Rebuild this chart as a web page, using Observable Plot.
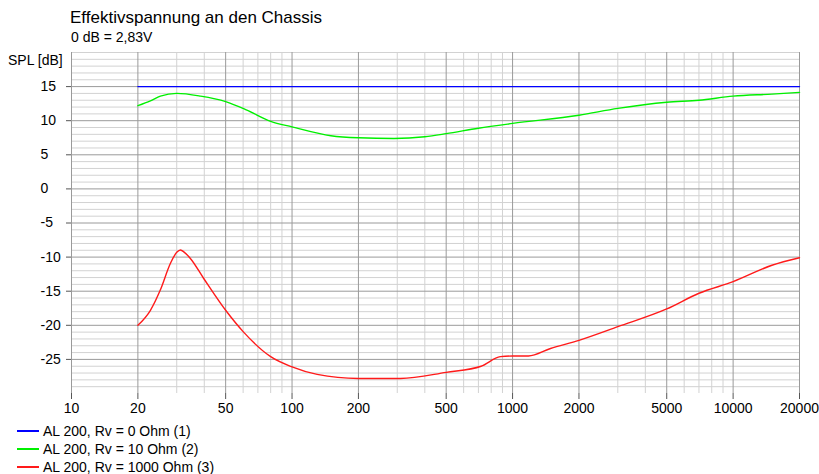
<!DOCTYPE html>
<html><head><meta charset="utf-8">
<script src="https://cdn.jsdelivr.net/npm/d3@7"></script>
<script src="https://cdn.jsdelivr.net/npm/@observablehq/plot@0.6"></script>
<style>
body{margin:0;background:#fff;font-family:"Liberation Sans",Arial,sans-serif;color:#000;}
#wrap{position:relative;width:819px;height:474px;overflow:hidden;background:#fff;}
.t{position:absolute;line-height:1;white-space:nowrap;}
#title{left:70px;top:9px;font-size:17px;}
#sub{left:71px;top:30px;font-size:14px;}
#ylab{left:8px;top:53px;font-size:14px;}
#chart{position:absolute;left:0;top:0;}
.leg{position:absolute;left:17px;height:18px;font-size:14px;line-height:1;}
.leg span.sw{position:absolute;left:0;top:8px;width:22px;height:0;border-top:2px solid;}
.leg span.tx{position:absolute;left:26px;top:2px;white-space:nowrap;}
</style></head>
<body><div id="wrap">
<div id="chart"></div>
<div class="t" id="title">Effektivspannung an den Chassis</div>
<div class="t" id="sub">0 dB = 2,83V</div>
<div class="t" id="ylab">SPL [dB]</div>
<div id="legend"></div>
</div>
<script>
const xTicks = [10, 20, 50, 100, 200, 500, 1000, 2000, 5000, 10000, 20000];
const yTicks = [15, 10, 5, 0, -5, -10, -15, -20, -25];
const seriesNames = ["AL 200, Rv = 0 Ohm (1)", "AL 200, Rv = 10 Ohm (2)", "AL 200, Rv = 1000 Ohm (3)"];
const seriesColors = ["#0000ff", "#00f000", "#ff1a1a"];

const blueFreq = [20, 20000];
const blueDb = [15, 15];

const greenFreq = [20, 22.8, 25.3, 30, 38.5, 50, 62, 80, 100, 150, 200, 290, 400, 500, 700, 1000, 2000, 3000, 5000, 7000, 10000, 15000, 20000];
const greenDb = [12.2, 12.9, 13.6, 14.0, 13.6, 12.8, 11.6, 9.9, 9.1, 7.8, 7.5, 7.4, 7.65, 8.1, 8.9, 9.6, 10.8, 11.8, 12.7, 13.0, 13.6, 13.9, 14.15];

const redFreq = [20, 22.8, 25.3, 28.1, 30, 31.2, 32.5, 34.6, 39.7, 50, 60.3, 80, 100, 130, 200, 310, 500, 720, 880, 1000, 1180, 1486, 2000, 3000, 5000, 7000, 10000, 15000, 20000];
const redDb = [-20.0, -17.8, -14.8, -10.9, -9.3, -8.95, -9.3, -10.2, -13.1, -17.8, -21.0, -24.6, -26.1, -27.2, -27.8, -27.8, -26.9, -26.0, -24.6, -24.5, -24.5, -23.4, -22.2, -20.2, -17.6, -15.3, -13.6, -11.2, -10.1];

const series = [
  {name: seriesNames[0], color: seriesColors[0], f: blueFreq, db: blueDb},
  {name: seriesNames[1], color: seriesColors[1], f: greenFreq, db: greenDb},
  {name: seriesNames[2], color: seriesColors[2], f: redFreq, db: redDb}
];

const minorY = d3.range(-29, 21).filter(v => !yTicks.includes(v));
const minorX = [];
for (let k = 10; k <= 10000; k *= 10) for (let m = 1; m <= 9; m++) { const v = k * m; if (v <= 20000 && !xTicks.includes(v)) minorX.push(v); }

const lineMarks = series.map(s => Plot.line(s.f.map((f, i) => ({f, db: s.db[i]})), {x: "f", y: "db", stroke: s.color, strokeWidth: 1.4, curve: "monotone-x"}));

const chart = Plot.plot({
  width: 819, height: 420,
  marginTop: 52, marginRight: 20, marginBottom: 27, marginLeft: 71,
  style: {fontFamily: '"Liberation Sans", Arial, sans-serif', fontSize: "14px", color: "#000", background: "transparent", overflow: "visible"},
  x: {type: "log", domain: [10, 20000]},
  y: {domain: [-30, 20]},
  marks: [
    Plot.ruleY(minorY, {stroke: "#d2d2d2", strokeWidth: 1}),
    Plot.ruleX(minorX, {stroke: "#d2d2d2", strokeWidth: 1}),
    Plot.ruleY(yTicks, {stroke: "#9a9a9a", strokeWidth: 1}),
    Plot.ruleX(xTicks, {stroke: "#9a9a9a", strokeWidth: 1}),
    Plot.axisX(xTicks, {tickSize: 6, tickPadding: 5, tickFormat: () => "", stroke: "#555", label: null}),
    Plot.text(xTicks, {x: d => d, frameAnchor: "bottom", dy: 19, text: d => String(d), fill: "#000", fontSize: 14}),
    Plot.axisY(yTicks, {tickSize: 5, tickPadding: 26, textAnchor: "start", tickFormat: d => String(d), stroke: "#555", fill: "#000", label: null, fontSize: 14}),
    ...lineMarks
  ]
});
document.getElementById("chart").appendChild(chart);

const leg = document.getElementById("legend");
series.forEach((s, i) => {
  const row = document.createElement("div");
  row.className = "leg";
  row.style.top = (422 + i * 18) + "px";
  row.innerHTML = `<span class="sw" style="border-color:${s.color}"></span><span class="tx"></span>`;
  row.querySelector(".tx").textContent = s.name;
  leg.appendChild(row);
});
</script>
</body></html>
